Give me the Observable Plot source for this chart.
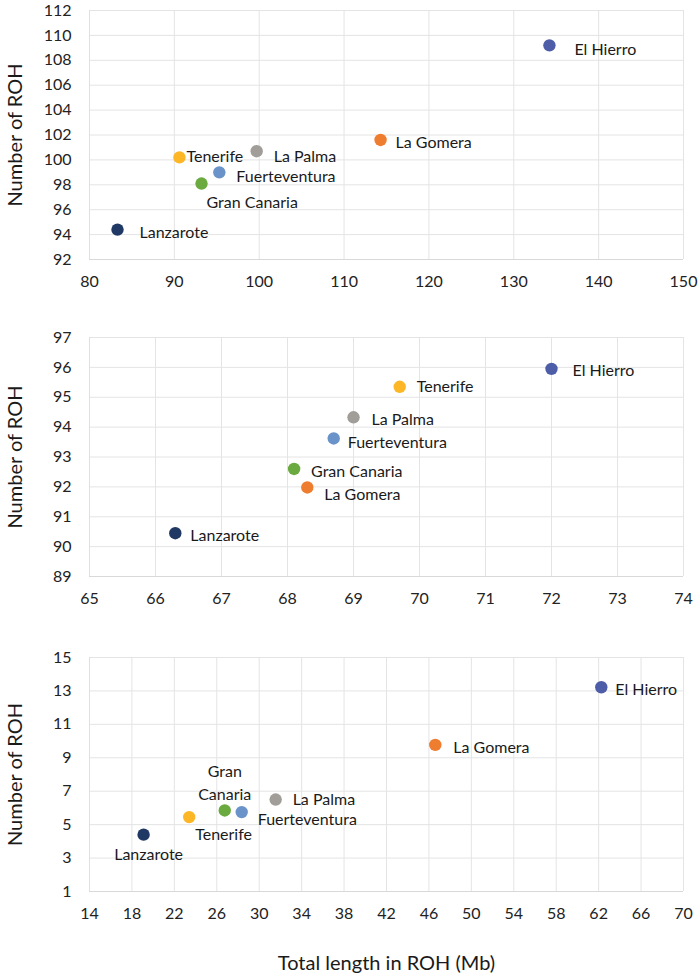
<!DOCTYPE html>
<html><head><meta charset="utf-8">
<script src="https://cdn.jsdelivr.net/npm/d3@7"></script>
<script src="https://cdn.jsdelivr.net/npm/@observablehq/plot@0.6"></script>
<style>
html,body{margin:0;padding:0;background:#fff;}
#chart{width:700px;height:980px;}
#chart svg{display:block;}
</style></head><body><div id="chart"></div>
<script>
// ---- data ----
const islands = ["Lanzarote", "Tenerife", "Gran Canaria", "Fuerteventura", "La Palma", "La Gomera", "El Hierro"];
const islandColors = ["#203864", "#FDB726", "#6AAA3F", "#6A93C9", "#A19D99", "#EE7D30", "#4E5DA8"];

// panel 1
const length1 = [83.3, 90.6, 93.2, 95.3, 99.7, 114.3, 134.2];
const count1  = [94.4, 100.2, 98.1, 99.0, 100.7, 101.6, 109.2];
// panel 2
const length2 = [66.3, 69.7, 68.1, 68.7, 69.0, 68.3, 72.0];
const count2  = [90.45, 95.35, 92.6, 93.62, 94.33, 91.98, 95.95];
// panel 3
const length3 = [19.1, 23.4, 26.75, 28.35, 31.55, 46.6, 62.25];
const count3  = [4.4, 5.45, 5.85, 5.75, 6.5, 9.77, 13.22];

const xTicks1 = [80, 90, 100, 110, 120, 130, 140, 150];
const yTicks1 = [92, 94, 96, 98, 100, 102, 104, 106, 108, 110, 112];
const xTicks2 = [65, 66, 67, 68, 69, 70, 71, 72, 73, 74];
const yTicks2 = [89, 90, 91, 92, 93, 94, 95, 96, 97];
const xTicks3 = [14, 18, 22, 26, 30, 34, 38, 42, 46, 50, 54, 58, 62, 66, 70];
const yTicks3 = [1, 3, 5, 7, 9, 11, 13, 15];

const yTitle = "Number of ROH";
const xTitle = "Total length in ROH (Mb)";

// ---- layout (label placement, offsets in px) ----
const labelPlacement = [
  { "Lanzarote": [22, 1, "start"], "Tenerife": [7, -3, "start"], "Gran Canaria": [5, 17, "start"],
    "Fuerteventura": [17, 2, "start"], "La Palma": [17, 3, "start"], "La Gomera": [15, 1, "start"], "El Hierro": [25, 2, "start"] },
  { "Lanzarote": [15, 0, "start"], "Tenerife": [17, -2, "start"], "Gran Canaria": [17, 1, "start"],
    "Fuerteventura": [14, 2, "start"], "La Palma": [18, 0, "start"], "La Gomera": [17, 5, "start"], "El Hierro": [21, 0, "start"] },
  { "Lanzarote": [5, 18, "middle"], "Tenerife": [6, 15, "start"], "Gran Canaria": [0, -29, "middle", true],
    "Fuerteventura": [16, 5, "start"], "La Palma": [17, -2, "start"], "La Gomera": [18, 1, "start"], "El Hierro": [14, 0, "start"] }
];

const panels = [
  { xs: length1, ys: count1, xTicks: xTicks1, yTicks: yTicks1, height: 320, marginTop: 10, marginBottom: 61 },
  { xs: length2, ys: count2, xTicks: xTicks2, yTicks: yTicks2, height: 320, marginTop: 17, marginBottom: 64 },
  { xs: length3, ys: count3, xTicks: xTicks3, yTicks: yTicks3, height: 340, marginTop: 17, marginBottom: 89, showXTitle: true }
];

const container = document.getElementById("chart");
const textColor = "#1a1a1a";
const FS = 16;

panels.forEach((p, pi) => {
  const rows = islands.map((name, i) => ({ name, x: p.xs[i], y: p.ys[i], color: islandColors[i] }));
  const xDom = [p.xTicks[0], p.xTicks[p.xTicks.length - 1]];
  const yDom = [p.yTicks[0], p.yTicks[p.yTicks.length - 1]];
  const labelMarks = rows.map(r => {
    const [dx, dy, anchor, wrap] = labelPlacement[pi][r.name];
    return Plot.text([r], {
      x: "x", y: "y", text: d => wrap ? d.name.replace(" ", "\n") : d.name,
      dx, dy, textAnchor: anchor, lineAnchor: "middle", lineHeight: 1.45,
      fontSize: FS, fill: textColor
    });
  });
  const marks = [
    Plot.gridX(p.xTicks, { stroke: "#e4e4e4", strokeOpacity: 1 }),
    Plot.gridY(p.yTicks, { stroke: "#e4e4e4", strokeOpacity: 1 }),
    Plot.ruleY([yDom[0]], { stroke: "#d9d9d9" }),
    Plot.ruleX([xDom[0]], { stroke: "#e0e0e0" }),
    Plot.axisX(p.xTicks, { tickSize: 0, tickPadding: 16, fontSize: FS, fill: "#222", label: null }),
    Plot.axisY(p.yTicks, { tickSize: 0, tickPadding: 18, fontSize: FS, fill: "#222", label: null }),
    Plot.dot(rows, { x: "x", y: "y", fill: "color", r: 6.2, stroke: null }),
    ...labelMarks,
    Plot.text([yTitle], { frameAnchor: "left", text: d => d, rotate: -90, dx: -74, textAnchor: "middle", lineAnchor: "middle", fontSize: 20, fill: textColor })
  ];
  if (p.showXTitle) {
    marks.push(Plot.text([xTitle], { frameAnchor: "bottom", text: d => d, dy: 72, textAnchor: "middle", lineAnchor: "middle", fontSize: 20, fill: textColor }));
  }
  const svg = Plot.plot({
    width: 700, height: p.height,
    marginLeft: 89, marginRight: 17, marginTop: p.marginTop, marginBottom: p.marginBottom,
    style: { fontFamily: "Lato, 'Open Sans', sans-serif", background: "#fff", overflow: "visible" },
    x: { domain: xDom, ticks: p.xTicks },
    y: { domain: yDom, ticks: p.yTicks },
    color: { type: "identity" },
    marks
  });
  container.appendChild(svg);
});
</script>
</body></html>
